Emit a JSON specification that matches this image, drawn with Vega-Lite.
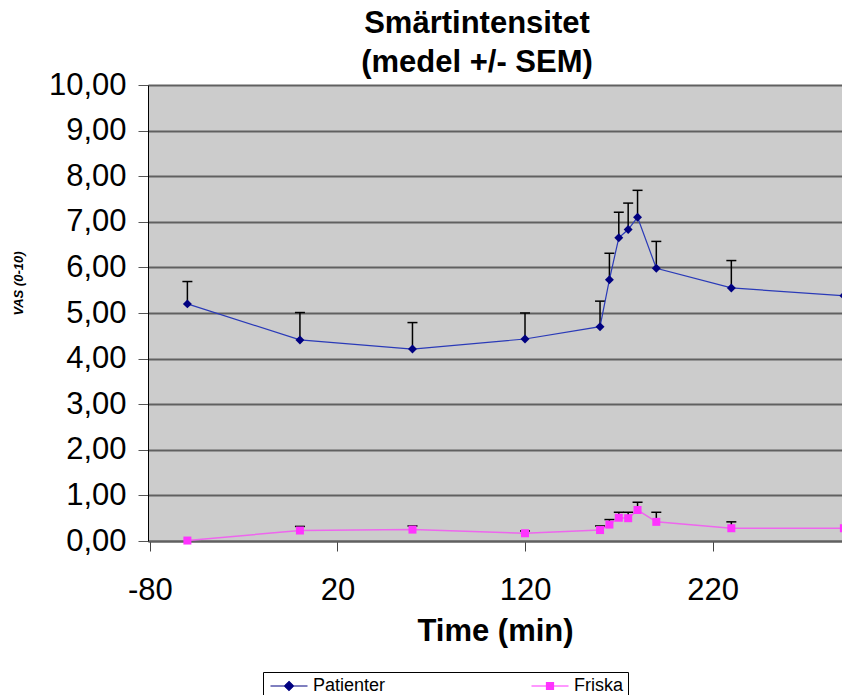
{
  "$schema": "https://vega.github.io/schema/vega-lite/v6.json",
  "width": 694,
  "height": 456,
  "autosize": {"type": "none"},
  "padding": {"left": 148, "top": 85, "right": 0, "bottom": 154},
  "background": "white",
  "config": {
    "font": "Liberation Sans",
    "view": {"fill": "#cccccc", "stroke": null}
  },
  "title": {
    "text": ["Smärtintensitet", "(medel +/- SEM)"],
    "fontSize": 31,
    "fontWeight": "bold",
    "font": "Liberation Sans",
    "color": "black",
    "anchor": "middle",
    "dx": -18,
    "dy": 47,
    "lineHeight": 39,
    "baseline": "alphabetic",
    "offset": 13
  },
  "data": {
    "values": [
      {"series": "Patienter", "t": -60, "v": 5.20, "top": 5.69},
      {"series": "Patienter", "t": 0, "v": 4.41, "top": 5.01},
      {"series": "Patienter", "t": 60, "v": 4.21, "top": 4.79},
      {"series": "Patienter", "t": 120, "v": 4.43, "top": 5.00},
      {"series": "Patienter", "t": 160, "v": 4.70, "top": 5.26},
      {"series": "Patienter", "t": 165, "v": 5.73, "top": 6.31},
      {"series": "Patienter", "t": 170, "v": 6.65, "top": 7.21},
      {"series": "Patienter", "t": 175, "v": 6.83, "top": 7.41},
      {"series": "Patienter", "t": 180, "v": 7.10, "top": 7.69},
      {"series": "Patienter", "t": 190, "v": 5.98, "top": 6.57},
      {"series": "Patienter", "t": 230, "v": 5.55, "top": 6.15},
      {"series": "Patienter", "t": 290, "v": 5.38, "top": null},
      {"series": "Friska", "t": -60, "v": 0.01, "top": null},
      {"series": "Friska", "t": 0, "v": 0.23, "top": 0.32},
      {"series": "Friska", "t": 60, "v": 0.25, "top": 0.33},
      {"series": "Friska", "t": 120, "v": 0.17, "top": 0.22},
      {"series": "Friska", "t": 160, "v": 0.24, "top": 0.33},
      {"series": "Friska", "t": 165, "v": 0.36, "top": 0.47},
      {"series": "Friska", "t": 170, "v": 0.51, "top": 0.63},
      {"series": "Friska", "t": 175, "v": 0.50, "top": 0.63},
      {"series": "Friska", "t": 180, "v": 0.68, "top": 0.85},
      {"series": "Friska", "t": 190, "v": 0.42, "top": 0.63},
      {"series": "Friska", "t": 230, "v": 0.28, "top": 0.42},
      {"series": "Friska", "t": 290, "v": 0.28, "top": null}
    ]
  },
  "encoding": {
    "x": {
      "field": "t",
      "type": "quantitative",
      "scale": {"domain": [-81, 289], "nice": false, "zero": false},
      "axis": {
        "title": "Time (min)",
        "values": [-80, 20, 120, 220],
        "labelExpr": "'' + datum.value",
        "grid": false,
        "domainColor": "#606060",
        "domainWidth": 2,
        "tickColor": "#444444",
        "tickSize": 10,
        "labelFontSize": 31,
        "labelColor": "black",
        "labelPadding": 24,
        "titleFontSize": 31,
        "titleFontWeight": "bold",
        "titleColor": "black",
        "titleBaseline": "alphabetic",
        "titleY": 99
      }
    }
  },
  "layer": [
    {
      "transform": [{"filter": "datum.top != null"}],
      "mark": {"type": "rule", "color": "black", "strokeWidth": 1.5},
      "encoding": {
        "y": {
          "field": "v",
          "type": "quantitative",
          "scale": {"domain": [0, 10], "nice": false},
          "axis": {
            "title": "VAS (0-10)",
            "values": [0, 1, 2, 3, 4, 5, 6, 7, 8, 9, 10],
            "labelExpr": "replace(format(datum.value, '.2f'), '.', ',')",
            "grid": true,
            "gridColor": "#606060",
            "gridWidth": 2,
            "domainColor": "black",
            "domainWidth": 1,
            "tickColor": "#555555",
            "tickSize": 10,
            "labelFontSize": 31,
            "labelColor": "black",
            "labelPadding": 12,
            "titleFontSize": 13,
            "titleFontWeight": "bold",
            "titleFontStyle": "italic",
            "titleColor": "black",
            "titleAngle": -90,
            "titleAlign": "center",
            "titleBaseline": "middle",
            "titleX": -130,
            "titleY": 198
          }
        },
        "y2": {"field": "top"}
      }
    },
    {
      "transform": [{"filter": "datum.top != null"}],
      "mark": {"type": "point", "shape": "stroke", "size": 100, "stroke": "black", "strokeWidth": 1.5, "filled": false, "opacity": 1},
      "encoding": {
        "y": {"field": "top", "type": "quantitative"}
      }
    },
    {
      "transform": [{"filter": "datum.series == 'Patienter'"}],
      "mark": {"type": "line", "color": "#2a3ab8", "strokeWidth": 1.2},
      "encoding": {
        "y": {"field": "v", "type": "quantitative"},
        "order": {"field": "t", "type": "quantitative"}
      }
    },
    {
      "transform": [{"filter": "datum.series == 'Friska'"}],
      "mark": {"type": "line", "color": "#ee66ee", "strokeWidth": 1.5},
      "encoding": {
        "y": {"field": "v", "type": "quantitative"},
        "order": {"field": "t", "type": "quantitative"}
      }
    },
    {
      "transform": [{"filter": "datum.series == 'Patienter'"}],
      "mark": {"type": "point", "shape": "diamond", "size": 80, "filled": true, "color": "#000080", "opacity": 1},
      "encoding": {
        "y": {"field": "v", "type": "quantitative"}
      }
    },
    {
      "transform": [{"filter": "datum.series == 'Friska'"}],
      "mark": {"type": "point", "shape": "square", "size": 64, "filled": true, "color": "#ff33ff", "opacity": 1},
      "encoding": {
        "y": {"field": "v", "type": "quantitative"}
      }
    },
    {
      "mark": {"type": "point", "filled": true, "opacity": 0, "size": 100},
      "encoding": {
        "y": {"field": "v", "type": "quantitative"},
        "color": {
          "field": "series",
          "type": "nominal",
          "scale": {"domain": ["Patienter", "Friska"], "range": ["#000080", "#ff33ff"]},
          "legend": {
            "orient": "none",
            "legendX": 115,
            "legendY": 587,
            "direction": "horizontal",
            "title": null,
            "labelFontSize": 18,
            "labelColor": "black",
            "labelFont": "Liberation Sans",
            "symbolSize": 100,
            "symbolOffset": 12,
            "labelOffset": 15,
            "columnPadding": 143,
            "padding": 5,
            "strokeColor": "black",
            "fillColor": "white",
            "symbolOpacity": 1,
            "symbolStrokeWidth": 1.2,
            "encode": {
              "symbols": {
                "update": {
                  "stroke": {"scale": "color", "field": "value"},
                  "strokeWidth": {"value": 1.2},
                  "opacity": {"value": 1}
                }
              }
            }
          }
        },
        "shape": {
          "field": "series",
          "type": "nominal",
          "scale": {
            "domain": ["Patienter", "Friska"],
            "range": [
              "M-3.7,0L3.7,0M0,-0.9L0.9,0L0,0.9L-0.9,0Z",
              "M-3.7,0L3.7,0M-0.7,-0.7L0.7,-0.7L0.7,0.7L-0.7,0.7Z"
            ]
          },
          "legend": {
            "orient": "none",
            "legendX": 115,
            "legendY": 587,
            "direction": "horizontal",
            "title": null,
            "labelFontSize": 18,
            "labelColor": "black",
            "labelFont": "Liberation Sans",
            "symbolSize": 100,
            "symbolOffset": 12,
            "labelOffset": 15,
            "columnPadding": 143,
            "padding": 5,
            "strokeColor": "black",
            "fillColor": "white",
            "symbolOpacity": 1,
            "symbolStrokeWidth": 1.2
          }
        }
      }
    }
  ]
}
